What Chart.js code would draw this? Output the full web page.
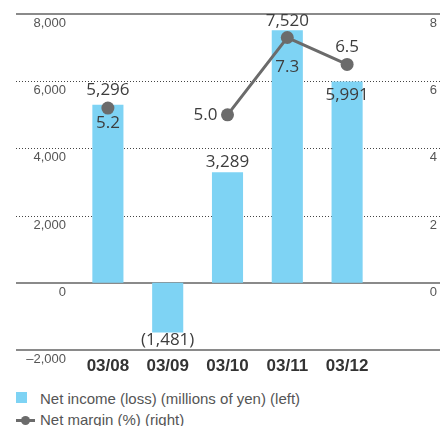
<!DOCTYPE html>
<html>
<head>
<meta charset="utf-8">
<script src="https://cdn.jsdelivr.net/npm/chart.js@4/dist/chart.umd.min.js"></script>
<style>
    body { margin: 0; background: #fff; font-family: 'Liberation Sans', Arial, sans-serif; }
    #wrap { position: relative; width: 444px; height: 426px; }
    .leg { position: absolute; left: 40px; font-size: 15px; color: #555; line-height: 18px; white-space: nowrap; }
</style>
</head>
<body>
<div id="wrap">
    <canvas id="bar-chart" width="444" height="385"></canvas>
    <div style="position:absolute;left:16px;top:392px;width:11px;height:11px;background:#7ed3f4;"></div>
    <div class="leg" style="top:390px;">Net income (loss) (millions of yen) (left)</div>
    <div style="position:absolute;left:16px;top:419px;width:19px;height:3px;background:#6b6b6b;"></div>
    <div style="position:absolute;left:21px;top:416px;width:9px;height:9px;border-radius:50%;background:#6b6b6b;"></div>
    <div class="leg" style="top:411px;">Net margin (%) (right)</div>
</div>
<script>
var years = ['03/08', '03/09', '03/10', '03/11', '03/12'];
var netIncome = [5296, -1481, 3289, 7520, 5991];
var netMargin = [5.2, null, 5.0, 7.3, 6.5];
var leftTicks = [-2000, 0, 2000, 4000, 6000, 8000];
var rightTicks = [0, 2, 4, 6, 8];

// label offsets from the bar end / point (pixels), 'left' = beside the point
var incomeLabelOff = [-15, 8, -10, -9, 14];
var marginLabelOff = [15, null, 'left', 30, -17];

function fmtIncome(v) {
    var s = Math.abs(v).toLocaleString('en-US');
    return v < 0 ? '(' + s + ')' : s;
}

var background = {
    id: 'background',
    beforeDatasetsDraw: function (chart) {
        var c = chart.ctx;
        var y = chart.scales.y;
        var y1 = chart.scales.y1;
        c.save();
        c.font = '13px "Liberation Sans", Arial, sans-serif';
        c.fillStyle = '#555';
        c.textAlign = 'right';
        c.textBaseline = 'middle';
        leftTicks.forEach(function (v, i) {
            var py = Math.round(y.getPixelForValue(v));
            c.beginPath();
            if (v === 0 || i === 0 || i === leftTicks.length - 1) {
                c.setLineDash([]);
                c.lineWidth = 2;
                c.strokeStyle = '#8a8a8a';
                c.moveTo(16, py);
                c.lineTo(440, py);
            } else {
                c.setLineDash([1, 2]);
                c.lineWidth = 1;
                c.strokeStyle = '#444';
                c.moveTo(16, py + 0.5);
                c.lineTo(440, py + 0.5);
            }
            c.stroke();
            var txt = v < 0 ? '\u2013' + Math.abs(v).toLocaleString('en-US') : v.toLocaleString('en-US');
            c.fillText(txt, 66, py + 9);
        });
        rightTicks.forEach(function (v) {
            c.fillText(String(v), 437, Math.round(y1.getPixelForValue(v)) + 9);
        });
        c.restore();
    }
};

var valueLabels = {
    id: 'valueLabels',
    afterDatasetsDraw: function (chart) {
        var c = chart.ctx;
        c.save();
        c.font = '17px "Open Sans", "Liberation Sans", sans-serif';
        c.fillStyle = '#3d3d3d';
        c.textBaseline = 'middle';
        c.textAlign = 'center';

        var bars = chart.getDatasetMeta(1).data;
        bars.forEach(function (el, i) {
            c.fillText(fmtIncome(netIncome[i]), el.x, el.y + incomeLabelOff[i]);
        });

        var pts = chart.getDatasetMeta(0).data;
        pts.forEach(function (el, i) {
            var v = netMargin[i];
            if (v === null) return;
            var off = marginLabelOff[i];
            if (off === 'left') {
                c.textAlign = 'right';
                c.fillText(v.toFixed(1), el.x - 10, el.y);
                c.textAlign = 'center';
            } else {
                c.fillText(v.toFixed(1), el.x, el.y + off);
            }
        });
        c.restore();
    }
};

var ctx = document.getElementById('bar-chart');
var chart = new Chart(ctx, {
    type: 'bar',
    data: {
        labels: years,
        datasets: [{
            type: 'line',
            label: 'Net margin (%) (right)',
            data: netMargin,
            yAxisID: 'y1',
            borderColor: '#6b6b6b',
            backgroundColor: '#6b6b6b',
            borderWidth: 3,
            pointRadius: 6.5,
            pointBackgroundColor: '#6b6b6b',
            pointBorderWidth: 0,
            spanGaps: false,
            order: 0
        }, {
            label: 'Net income (loss) (millions of yen) (left)',
            data: netIncome,
            yAxisID: 'y',
            backgroundColor: '#7ed3f4',
            barPercentage: 0.52,
            categoryPercentage: 1,
            order: 1
        }]
    },
    options: {
        responsive: false,
        animation: false,
        devicePixelRatio: 1,
        layout: { padding: { left: 78, right: 67, top: 14, bottom: 0 } },
        plugins: {
            legend: { display: false },
            tooltip: { enabled: false }
        },
        scales: {
            x: {
                offset: true,
                grid: { display: false, drawTicks: false },
                border: { display: false },
                ticks: {
                    color: '#333',
                    padding: 6,
                    font: { family: '"Liberation Sans", Arial, sans-serif', size: 17, weight: 'bold' }
                },
                afterFit: function (scale) { scale.height = 35; }
            },
            y: { display: false, min: -2000, max: 8000 },
            y1: { display: false, position: 'right', min: -2, max: 8 }
        }
    },
    plugins: [background, valueLabels]
});
</script>
</body>
</html>
